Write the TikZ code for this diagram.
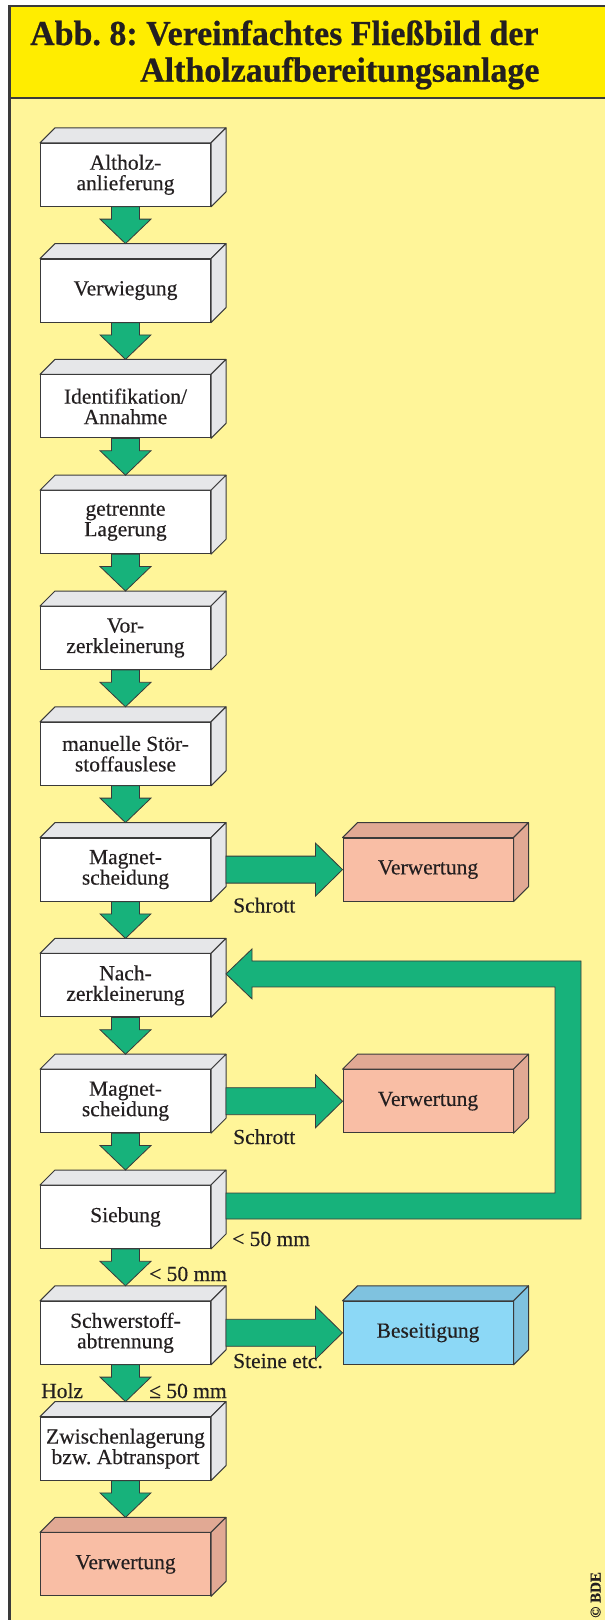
\documentclass[tikz,border=0pt]{standalone}
\usepackage{fontspec}
\setmainfont{Liberation Serif}[FakeBold=0.35]
\newfontfamily\plainfont{Liberation Serif}[FakeBold=0.35]
\newfontfamily\headfont{Liberation Serif}[FakeStretch=0.97, BoldFeatures={FakeBold=0.6}]
\usetikzlibrary{calc}

\definecolor{bandyellow}{HTML}{FFED00}
\definecolor{paper}{HTML}{FFF599}
\definecolor{flowgreen}{HTML}{17B27B}
\definecolor{edge}{HTML}{3A3A3A}
\definecolor{ink}{HTML}{231F20}
\definecolor{facegray}{HTML}{E6E7E9}
\definecolor{salmon}{HTML}{F9BEA5}
\definecolor{salmonface}{HTML}{E1A994}
\definecolor{skyblue}{HTML}{8CD8F6}
\definecolor{skyface}{HTML}{7FC2DF}

\tikzset{
  block/.style={draw=edge, line width=1pt, minimum width=170pt, minimum height=63pt,
    inner sep=0pt, align=center, text=ink,
    font=\plainfont\fontsize{21.5}{20.5}\selectfont},
  faceline/.style={draw=edge, line width=1pt, line join=round},
  arrowstyle/.style={draw=edge, line width=0.8pt, fill=flowgreen, line join=miter},
  tag/.style={anchor=base west, inner sep=0pt, text=ink,
    font=\plainfont\fontsize{21.5}{21.5}\selectfont},
}

% cuboid: name, x, y, front colour, face colour, text
\newcommand\flowbox[6]{%
  \node[block, fill=#4] (#1) at (#2,#3) {#6};
  \filldraw[faceline, fill=#5] (#1.north west) -- ++(15pt,15pt)
    -- ([shift={(15pt,15pt)}]#1.north east) -- (#1.north east) -- cycle;
  \filldraw[faceline, fill=#5] (#1.north east) -- ([shift={(15pt,15pt)}]#1.north east)
    -- ([shift={(15pt,15pt)}]#1.south east) -- (#1.south east) -- cycle;
}
% block arrow downwards, from a box to the top face of the next one
\newcommand\flowdown[2]{%
  \filldraw[arrowstyle] let \p1=(#1.south), \p2=([yshift=15pt]#2.north) in
    (\x1-14pt,\y1) -- (\x1+14pt,\y1) -- (\x1+14pt,\y2+24.5pt)
    -- (\x1+25.5pt,\y2+24.5pt) -- (\x1,\y2) -- (\x1-25.5pt,\y2+24.5pt)
    -- (\x1-14pt,\y2+24.5pt) -- cycle;
}
% block arrow to the right, from the side face of a box to the next box
\newcommand\flowright[2]{%
  \filldraw[arrowstyle] let \p1=([xshift=15pt]#1.east), \p2=(#2.west) in
    (\x1,\y1+13.5pt) -- (\x2-27pt,\y1+13.5pt) -- (\x2-27pt,\y1+26.5pt)
    -- (\x2,\y1) -- (\x2-27pt,\y1-26.5pt) -- (\x2-27pt,\y1-13.5pt)
    -- (\x1,\y1-13.5pt) -- cycle;
}

\begin{document}
\frenchspacing
\begin{tikzpicture}[x=1pt, y=-1pt]
\useasboundingbox (0,0) rectangle (605,1620);
\fill[white] (0,0) rectangle (605,1620);

% frame with title band
\fill[paper] (9,97.7) rectangle (605,1620);
\fill[bandyellow] (9,6) rectangle (605,97.7);
\draw[edge, line width=2.5pt] (8,6) -- (605,6);
\draw[edge, line width=2pt] (9,97.7) -- (605,97.7);
\draw[edge, line width=3pt] (9.5,4.75) -- (9.5,1620);

\node[anchor=base west, inner sep=0pt, text=ink,
  font=\headfont\bfseries\fontsize{35}{35}\selectfont] (title1) at (30,45)
  {Abb. 8: Vereinfachtes Fließbild der};
\node[anchor=base west, inner sep=0pt, text=ink,
  font=\headfont\bfseries\fontsize{35}{35}\selectfont] (title2) at (140,81.7)
  {Altholzaufbereitungsanlage};

% main column
\flowbox{b0}{125.5}{174.8}{white}{facegray}{Altholz-\\anlieferung}
\flowbox{b1}{125.5}{290.6}{white}{facegray}{Verwiegung}
\flowbox{b2}{125.5}{406.4}{white}{facegray}{Identifikation/\\Annahme}
\flowbox{b3}{125.5}{522.2}{white}{facegray}{getrennte\\Lagerung}
\flowbox{b4}{125.5}{638.0}{white}{facegray}{Vor-\\zerkleinerung}
\flowbox{b5}{125.5}{753.8}{white}{facegray}{manuelle Stör-\\stoffauslese}
\flowbox{b6}{125.5}{869.6}{white}{facegray}{Magnet-\\scheidung}
\flowbox{b7}{125.5}{985.4}{white}{facegray}{Nach-\\zerkleinerung}
\flowbox{b8}{125.5}{1101.2}{white}{facegray}{Magnet-\\scheidung}
\flowbox{b9}{125.5}{1217.0}{white}{facegray}{Siebung}
\flowbox{b10}{125.5}{1332.8}{white}{facegray}{Schwerstoff-\\abtrennung}
\flowbox{b11}{125.5}{1448.6}{white}{facegray}{Zwischenlagerung\\bzw. Abtransport}
\flowbox{b12}{125.5}{1564.4}{salmon}{salmonface}{Verwertung}

% side outputs
\flowbox{r1}{428}{869.6}{salmon}{salmonface}{Verwertung}
\flowbox{r2}{428}{1101.2}{salmon}{salmonface}{Verwertung}
\flowbox{r3}{428}{1332.8}{skyblue}{skyface}{Beseitigung}

% downward flow
\foreach \a/\b in {b0/b1,b1/b2,b2/b3,b3/b4,b4/b5,b5/b6,b6/b7,b7/b8,b8/b9,b9/b10,b10/b11,b11/b12}
  {\flowdown{\a}{\b}}

% branches to the right
\flowright{b6}{r1}
\flowright{b8}{r2}
\flowright{b10}{r3}

% return loop from screening back to secondary shredding
\coordinate (loopc) at (568,1100);
\filldraw[arrowstyle] let \p1=([xshift=15pt,yshift=11pt]b9.east),
    \p2=([xshift=15pt,yshift=11.5pt]b7.east), \p3=(loopc) in
  (\x1,\y1+13pt) -- (\x3-13pt,\y1+13pt) -- (\x3-13pt,\y2-13pt)
  -- (\x2+26pt,\y2-13pt) -- (\x2+26pt,\y2-25pt) -- (\x2,\y2)
  -- (\x2+26pt,\y2+25pt) -- (\x2+26pt,\y2+13pt) -- (\x3+13pt,\y2+13pt)
  -- (\x3+13pt,\y1-13pt) -- (\x1,\y1-13pt) -- cycle;

% flow labels
\node[tag] (s1) at (233,912.5) {Schrott};
\node[tag] (s2) at (233,1144) {Schrott};
\node[tag] (m1) at (232,1246) {< 50 mm};
\node[tag] (m2) at (149,1281) {< 50 mm};
\node[tag] (st) at (233,1368) {Steine etc.};
\node[tag] (hz) at (41,1398) {Holz};
\node[tag] (m3) at (149,1398) {≤ 50 mm};

\node[rotate=90, anchor=base west, inner sep=0pt, text=ink,
  font=\bfseries\fontsize{15}{15}\selectfont] (copy) at (600.5,1618) {© BDE};
\end{tikzpicture}
\end{document}
